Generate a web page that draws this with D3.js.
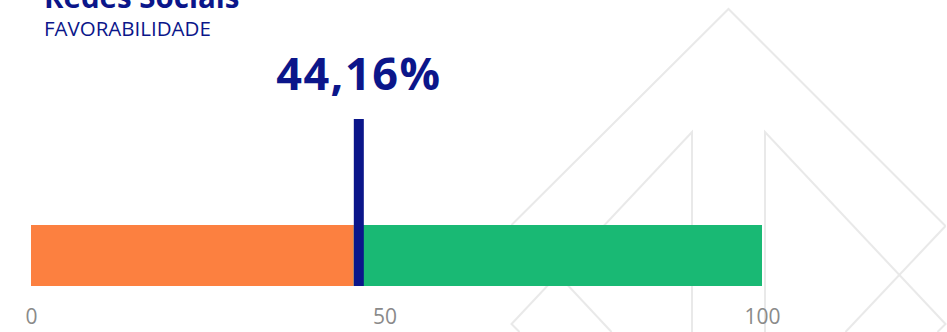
<!DOCTYPE html>
<html>
<head>
<meta charset="utf-8">
<script src="https://cdn.jsdelivr.net/npm/d3@7/dist/d3.min.js"></script>
<style>
  html, body { margin: 0; padding: 0; background: #ffffff; }
  svg { display: block; }
</style>
</head>
<body>
<div id="chart"></div>
<script>
// Favourability gauge: one stacked bar (favourable vs. rest) with a value marker
const title = "Redes Sociais";
const subtitle = "FAVORABILIDADE";
const segments = ["Favorável", "Restante"];
const favorability = [44.16];          // percent
const scaleDomain = [0, 100];
const tickValues = [0, 50, 100];
const tickLabels = ["0", "50", "100"];

const W = 947, H = 332;
const navy = "#0b168a";
const colors = { "Favorável": "#fc8040", "Restante": "#19b974" };
const font = "'Open Sans', 'Noto Sans', sans-serif";

const svg = d3.select("#chart").append("svg")
  .attr("width", W).attr("height", H);

// Decorative outline emblem in the background
const emblem = svg.append("g")
  .attr("fill", "none")
  .attr("stroke", "#e9e9e9")
  .attr("stroke-width", 2)
  .attr("stroke-linejoin", "miter");
const eCx = 728.5, eTop = 9, eHalf = 217, eInnerDx = 36.5, eInnerTop = 132;
const line = d3.line();
const emblemPaths = [
  [[eCx - eHalf, eTop + eHalf - 1], [eCx, eTop], [eCx + eHalf, eTop + eHalf]],
  [[eCx - eHalf, eTop + eHalf - 1], [eCx - eHalf + 100, H]],
  [[eCx + eHalf, eTop + eHalf], [eCx + eHalf - 100, H]],
  [[eCx - eInnerDx, H], [eCx - eInnerDx, eInnerTop], [eCx - eHalf, 324], [eCx - eHalf + 8, H]],
  [[eCx + eInnerDx, H], [eCx + eInnerDx, eInnerTop], [eCx + eHalf, 324], [eCx + eHalf - 8, H]]
];
emblem.selectAll("path").data(emblemPaths).join("path").attr("d", d => line(d));

// Titles (the title sits partly above the top edge of the card)
svg.append("text")
  .attr("x", 44).attr("y", 8)
  .attr("fill", navy)
  .attr("font-family", font)
  .attr("font-weight", 700)
  .attr("font-size", 29.5)
  .text(title);
svg.append("text")
  .attr("x", 44).attr("y", 36)
  .attr("fill", navy)
  .attr("font-family", font)
  .attr("font-size", 20.5)
  .text(subtitle);

// Scale and stacked segments
const x = d3.scaleLinear().domain(scaleDomain).range([31, 762]);
const value = favorability[0];
const stackData = [
  { key: segments[0], x0: scaleDomain[0], x1: value },
  { key: segments[1], x0: value, x1: scaleDomain[1] }
];
const barTop = 225, barH = 61;

svg.append("g").selectAll("rect").data(stackData).join("rect")
  .attr("x", d => x(d.x0))
  .attr("y", barTop)
  .attr("width", d => x(d.x1) - x(d.x0))
  .attr("height", barH)
  .attr("fill", d => colors[d.key]);

// Value marker, starting where the favourable segment ends
const markerW = 10;
const markerX = x(value);
svg.append("rect")
  .attr("x", markerX)
  .attr("y", 119)
  .attr("width", markerW)
  .attr("height", barTop + barH - 119)
  .attr("fill", navy);

svg.append("text")
  .attr("x", markerX + markerW / 2)
  .attr("y", 90)
  .attr("text-anchor", "middle")
  .attr("fill", navy)
  .attr("font-family", font)
  .attr("font-weight", 700)
  .attr("font-size", 45)
  .attr("letter-spacing", 1.5)
  .text(d3.format(".2f")(value).replace(".", ",") + "%");

// Axis
const axis = d3.axisBottom(x)
  .tickValues(tickValues)
  .tickSize(0)
  .tickPadding(0)
  .tickFormat((d, i) => tickLabels[i]);
const gx = svg.append("g")
  .attr("transform", `translate(0,${barTop + barH})`)
  .call(axis);
gx.select(".domain").remove();
gx.selectAll(".tick text")
  .attr("y", 38)
  .attr("dy", 0)
  .attr("fill", "#8a8a8a")
  .attr("font-family", font)
  .attr("font-size", 21)
  .attr("text-anchor", (d, i) => (i === 1 ? "end" : "middle"));
</script>
</body>
</html>
